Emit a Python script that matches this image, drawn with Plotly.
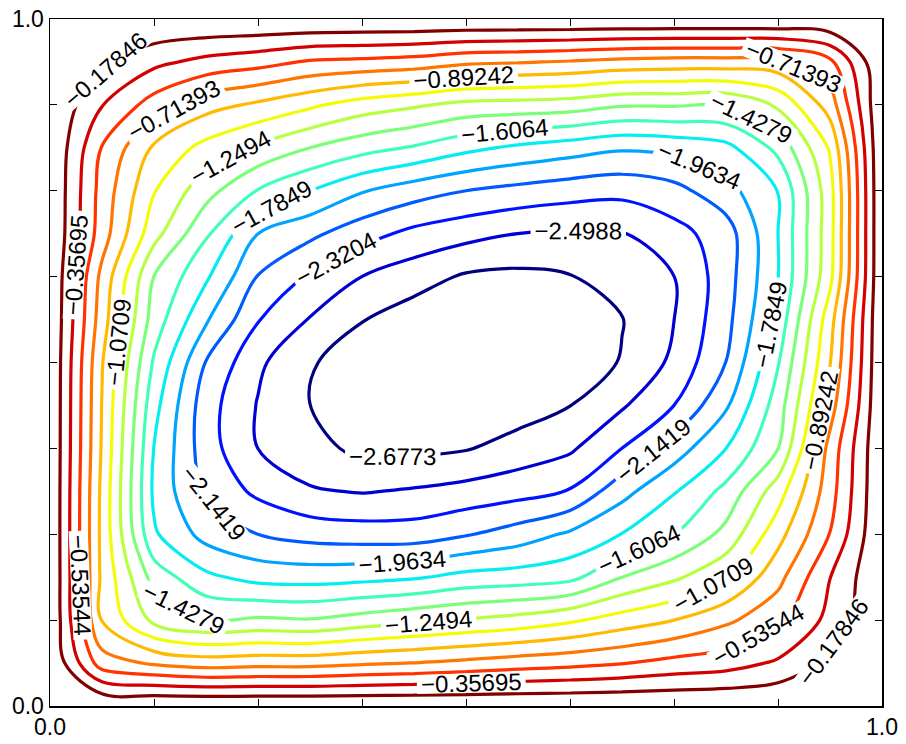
import plotly.graph_objects as go

# grid coordinates (data units)
x_vals = [0.0, 0.0625, 0.125, 0.1875, 0.25, 0.3125, 0.375, 0.4375, 0.5,
          0.5625, 0.625, 0.6875, 0.75, 0.8125, 0.875, 0.9375, 1.0]
y_vals = [0.0, 0.0625, 0.125, 0.1875, 0.25, 0.3125, 0.375, 0.4375, 0.5,
          0.5625, 0.625, 0.6875, 0.75, 0.8125, 0.875, 0.9375, 1.0]

# field values, rows from y=0 (bottom) to y=1 (top)
z_row_00 = [0]*17
z_row_01 = [0, -0.63, -0.74, -0.80, -0.78, -0.78, -0.74, -0.71, -0.67, -0.625, -0.59, -0.545, -0.48, -0.436, -0.33, -0.14, 0]
z_row_02 = [0, -0.90, -1.30, -1.428, -1.40, -1.416, -1.35, -1.29, -1.235, -1.184, -1.10, -0.99, -0.892, -0.75, -0.59, -0.30, 0]
z_row_03 = [0, -0.93, -1.50, -1.745, -1.847, -1.86, -1.84, -1.806, -1.73, -1.705, -1.66, -1.428, -1.283, -1.10, -0.77, -0.36, 0]
z_row_04 = [0, -0.94, -1.76, -2.03, -2.142, -2.21, -2.234, -2.234, -2.157, -2.06, -1.934, -1.78, -1.61, -1.374, -0.958, -0.53, 0]
z_row_05 = [0, -0.935, -1.82, -2.18, -2.36, -2.48, -2.51, -2.48, -2.437, -2.389, -2.31, -2.025, -1.80, -1.556, -1.154, -0.61, 0]
z_row_06 = [0, -0.91, -1.79, -2.24, -2.50, -2.62, -2.72, -2.72, -2.69, -2.605, -2.527, -2.32, -2.056, -1.785, -1.43, -0.65, 0]
z_row_07 = [0, -0.90, -1.725, -2.245, -2.51, -2.68, -2.768, -2.81, -2.81, -2.767, -2.68, -2.52, -2.32, -1.99, -1.52, -0.80, 0]
z_row_08 = [0, -0.88, -1.63, -2.15, -2.465, -2.66, -2.77, -2.835, -2.85, -2.835, -2.77, -2.667, -2.46, -2.14, -1.62, -0.90, 0]
z_row_09 = [0, -0.81, -1.51, -1.94, -2.31, -2.51, -2.67, -2.767, -2.81, -2.81, -2.77, -2.684, -2.50, -2.20, -1.73, -0.966, 0]
z_row_10 = [0, -0.765, -1.43, -1.756, -2.15, -2.344, -2.50, -2.60, -2.70, -2.72, -2.685, -2.61, -2.50, -2.225, -1.79, -1.12, 0]
z_row_11 = [0, -0.628, -1.185, -1.58, -1.963, -2.10, -2.25, -2.37, -2.44, -2.50, -2.52, -2.51, -2.385, -2.229, -1.785, -1.14, 0]
z_row_12 = [0, -0.605, -1.06, -1.36, -1.616, -1.785, -1.95, -2.06, -2.142, -2.197, -2.243, -2.268, -2.20, -2.03, -1.78, -1.14, 0]
z_row_13 = [0, -0.545, -0.92, -1.13, -1.285, -1.428, -1.54, -1.625, -1.74, -1.82, -1.88, -1.94, -1.91, -1.84, -1.557, -1.05, 0]
z_row_14 = [0, -0.35, -0.615, -0.824, -0.925, -1.037, -1.155, -1.224, -1.30, -1.318, -1.34, -1.41, -1.41, -1.42, -1.22, -0.81, 0]
z_row_15 = [0, -0.16, -0.31, -0.41, -0.47, -0.556, -0.58, -0.61, -0.68, -0.70, -0.73, -0.77, -0.79, -0.79, -0.78, -0.58, 0]
z_row_16 = [0]*17

z_rows = [z_row_00, z_row_01, z_row_02, z_row_03, z_row_04, z_row_05, z_row_06,
          z_row_07, z_row_08, z_row_09, z_row_10, z_row_11, z_row_12, z_row_13,
          z_row_14, z_row_15, z_row_16]

# contour levels (labels show 5 significant digits)
levels = [-2.6773335, -2.4988425, -2.3203515, -2.1418605, -1.9633695,
          -1.7848785, -1.6063875, -1.4278965, -1.2494055, -1.0709145,
          -0.8924235, -0.7139325, -0.5354415, -0.3569505, -0.1784595]

# jet colours of the levels (lowest -> highest)
level_colors = ["rgb(0,0,128)", "rgb(0,0,210)", "rgb(0,18,255)", "rgb(0,91,255)",
                "rgb(0,164,255)", "rgb(6,237,241)", "rgb(65,255,182)", "rgb(123,255,123)",
                "rgb(182,255,65)", "rgb(241,252,6)", "rgb(255,185,0)", "rgb(255,117,0)",
                "rgb(255,50,0)", "rgb(210,0,0)", "rgb(128,0,0)"]

tick_vals = [0.0, 0.125, 0.25, 0.375, 0.5, 0.625, 0.75, 0.875, 1.0]
tick_text = ["0.0", "", "", "", "", "", "", "", "1.0"]

step = (levels[-1] - levels[0]) / (len(levels) - 1)
n = len(level_colors)
colorscale = [[k / (n - 1), c] for k, c in enumerate(level_colors)]

font_family = "Liberation Sans, Arial, sans-serif"

fig = go.Figure(go.Contour(
    x=x_vals, y=y_vals, z=z_rows,
    contours=dict(start=levels[0], end=levels[-1], size=step,
                  coloring="lines", showlabels=True,
                  labelformat=".5g",
                  labelfont=dict(family=font_family, size=24, color="black")),
    colorscale=colorscale,
    line=dict(width=3.2, smoothing=1.0),
    showscale=False,
    hoverinfo="skip",
))

axis_common = dict(
    range=[0, 1], tickmode="array", tickvals=tick_vals, ticktext=tick_text,
    ticks="inside", ticklen=7, tickwidth=1, tickcolor="black",
    showline=True, linecolor="black", linewidth=1.5, mirror="ticks",
    showgrid=False, zeroline=False, automargin=False,
    ticklabeloverflow="allow",
    tickfont=dict(family=font_family, size=23, color="black"),
)

fig.update_layout(
    template="none",
    width=906, height=744,
    margin=dict(l=50, r=24, t=19, b=38, autoexpand=False),
    paper_bgcolor="white", plot_bgcolor="white",
    font=dict(family=font_family, color="black"),
    xaxis=axis_common, yaxis=axis_common,
    showlegend=False,
)

# remove the default page margin so the figure fills the window exactly
fig.write_html("out.html",
               config={"displayModeBar": False, "staticPlot": True},
               post_script="document.body.style.margin='0px';document.body.style.overflow='hidden';")
